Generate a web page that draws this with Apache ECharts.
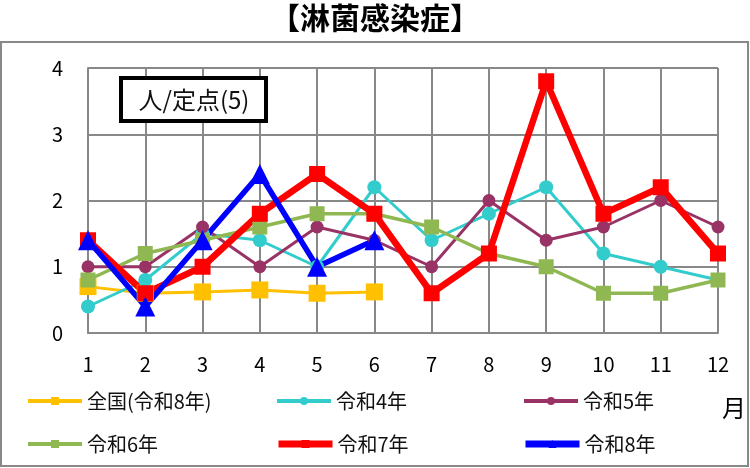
<!DOCTYPE html>
<html>
<head>
<meta charset="utf-8">
<script src="https://cdn.jsdelivr.net/npm/echarts@6/dist/echarts.min.js"></script>
<style>
  html, body { margin: 0; padding: 0; background: #fff; }
  #chart { width: 750px; height: 468px; }
</style>
</head>
<body>
<div id="chart"></div>
<script>
const months = ['1', '2', '3', '4', '5', '6', '7', '8', '9', '10', '11', '12'];
const zenkoku = [0.7, 0.6, 0.62, 0.65, 0.6, 0.62];
const r4 = [0.4, 0.8, 1.5, 1.4, 1.0, 2.2, 1.4, 1.8, 2.2, 1.2, 1.0, 0.8];
const r5 = [1.0, 1.0, 1.6, 1.0, 1.6, 1.4, 1.0, 2.0, 1.4, 1.6, 2.0, 1.6];
const r6 = [0.8, 1.2, 1.4, 1.6, 1.8, 1.8, 1.6, 1.2, 1.0, 0.6, 0.6, 0.8];
const r7 = [1.4, 0.6, 1.0, 1.8, 2.4, 1.8, 0.6, 1.2, 3.8, 1.8, 2.2, 1.2];
const r8 = [1.4, 0.4, 1.4, 2.4, 1.0, 1.4];

const font = '"Noto Sans CJK JP", "Noto Sans", sans-serif';

let chart = echarts.init(document.getElementById('chart'));

function mk(name, data, color, width, symbol, size) {
    return {
        name: name,
        type: 'line',
        data: data,
        symbol: symbol,
        symbolSize: size,
        lineStyle: { color: color, width: width },
        itemStyle: { color: color },
        animation: false
    };
}

function leg(name, left, top, lw) {
    return {
        data: [name],
        left: left,
        top: top,
        itemWidth: 54,
        itemHeight: 10,
        itemGap: 0,
        lineStyle: { width: lw },
        textStyle: { fontSize: 20, color: '#111', fontFamily: font },
        selectedMode: false
    };
}

let option = {
    backgroundColor: '#fff',
    title: {
        text: '【淋菌感染症】',
        left: 'center',
        top: -2,
        textStyle: { fontSize: 30, fontWeight: 'bold', color: '#000', fontFamily: font }
    },
    legend: [
        leg('全国(令和8年)', 21, 386, 4),
        leg('令和4年', 270, 386, 4),
        leg('令和5年', 517, 386, 4),
        leg('令和6年', 21, 429, 4),
        leg('令和7年', 270, 429, 7),
        leg('令和8年', 517, 429, 7)
    ],
    grid: { left: 88, right: 32, top: 68, bottom: 135 },
    xAxis: {
        type: 'category',
        data: months,
        boundaryGap: false,
        axisTick: { show: false },
        axisLine: { lineStyle: { color: '#888', width: 2 } },
        axisLabel: { margin: 21, fontSize: 20, color: '#000', fontFamily: font },
        splitLine: { show: true, lineStyle: { color: '#888', width: 2 } }
    },
    yAxis: {
        type: 'value',
        min: 0,
        max: 4,
        interval: 1,
        axisTick: { show: false },
        axisLine: { show: true, lineStyle: { color: '#888', width: 2 } },
        axisLabel: { margin: 25, fontSize: 20, color: '#000', fontFamily: font },
        splitLine: { lineStyle: { color: '#888', width: 2 } }
    },
    series: [
        mk('全国(令和8年)', zenkoku, '#FFC000', 3, 'rect', 17),
        mk('令和4年', r4, '#33CCCC', 3, 'circle', 14),
        mk('令和5年', r5, '#993366', 3, 'circle', 13),
        mk('令和6年', r6, '#8FB852', 3.5, 'rect', 15),
        mk('令和7年', r7, '#FF0000', 6.5, 'rect', 16),
        mk('令和8年', r8, '#0000FF', 5.5, 'triangle', 20)
    ],
    graphic: [
        {
            type: 'rect',
            shape: { x: 1, y: 42, width: 747, height: 424 },
            style: { fill: 'none', stroke: '#888', lineWidth: 2 },
            silent: true
        },
        {
            type: 'rect',
            shape: { x: 121, y: 78, width: 145, height: 43 },
            style: { fill: '#fff', stroke: '#000', lineWidth: 4 },
            z: 100
        },
        {
            type: 'text',
            x: 194,
            y: 100,
            style: { text: '人/定点(5)', fontSize: 24, fill: '#111', fontFamily: font, align: 'center', verticalAlign: 'middle' },
            z: 101
        },
        {
            type: 'text',
            x: 734,
            y: 408,
            style: { text: '月', fontSize: 24, fill: '#000', fontFamily: font, align: 'center', verticalAlign: 'middle' },
            z: 101
        }
    ]
};

chart.setOption(option);
</script>
</body>
</html>
